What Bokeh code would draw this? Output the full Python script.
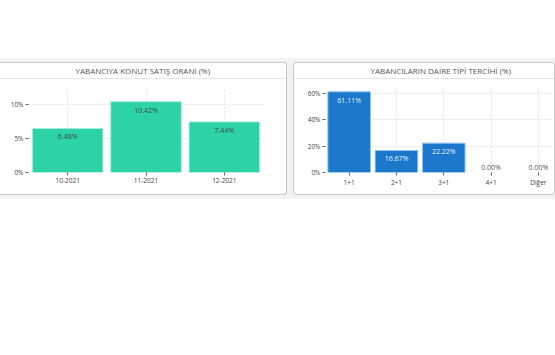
from bokeh.plotting import figure
from bokeh.layouts import column, row
from bokeh.models import (ColumnDataSource, FactorRange, Range1d, FixedTicker,
                          PrintfTickFormatter, Title, Spacer)
from bokeh.embed import file_html
from bokeh.resources import INLINE
from bokeh.core.properties import value

# ---------------- data ----------------
months = ["10-2021", "11-2021", "12-2021"]
sales_share = [6.48, 10.42, 7.44]
left_ticks = [0, 5, 10]

room_types = ["1+1", "2+1", "3+1", "4+1", "Diğer"]
room_share = [61.11, 16.67, 22.22, 0.00, 0.00]
right_ticks = [0, 20, 40, 60]

title_left = "YABANCIYA KONUT SATIŞ ORANI (%)"
title_right = "YABANCILARIN DAİRE TİPİ TERCİHİ (%)"

FONT = "Open Sans"
BAND = "#f2f2f2"
GRID = "#e2e2e2"
EDGE = "#c8c8c8"
CARD_BG = ("linear-gradient(to bottom, #ffffff 0px, #ffffff 16px, #e6e6e6 16px, "
           "#e6e6e6 17px, #ffffff 17px, #ffffff 100%)")


def style(p, title, ticks, offset):
    p.toolbar_location = None
    p.border_fill_color = None
    p.background_fill_color = "white"
    p.outline_line_color = None
    # real title on the outside, an empty spacer title next to the frame
    p.title.text = title
    p.title.align = "left"
    p.title.offset = offset
    p.title.standoff = 0
    p.title.text_font = FONT
    p.title.text_font_size = "8px"
    p.title.text_font_style = "normal"
    p.title.text_color = "#555555"
    p.add_layout(Title(text=" ", text_font_size="1px", standoff=10,
                       text_font_style="normal"), "above")
    for ax in (p.xaxis, p.yaxis):
        ax.axis_line_color = None
        ax.major_tick_out = 3
        ax.major_tick_in = 0
        ax.minor_tick_out = 0
        ax.minor_tick_in = 0
        ax.major_tick_line_color = "#666666"
        ax.major_label_text_font = FONT
        ax.major_label_text_font_size = "6.5px"
        ax.major_label_text_color = "#444444"
        ax.major_label_standoff = 2
    p.yaxis.ticker = FixedTicker(ticks=ticks)
    p.yaxis.formatter = PrintfTickFormatter(format="%d%%")
    for g in (p.xgrid, p.ygrid):
        g.grid_line_color = GRID
        g.grid_line_dash = "2 2"
        g.grid_line_width = 1


# ---------------- left chart ----------------
p1 = figure(width=287, height=133, x_range=FactorRange(factors=months),
            y_range=Range1d(0, 12.35), output_backend="svg",
            toolbar_location=None, tools="", margin=(4, 0, 4, 0),
            min_border_left=28, min_border_right=24,
            min_border_top=26, min_border_bottom=23)
style(p1, title_left, left_ticks, 47)
p1.styles = {"background": CARD_BG,
             "border-radius": "0 4px 4px 0",
             "box-shadow": (f"inset 0 1px 0 {EDGE}, inset -1px 0 0 {EDGE}, "
                            f"inset 0 -1px 0 {EDGE}")}

src1 = ColumnDataSource(dict(x=months, top=sales_share,
                             label=[f"{v:.2f}%" for v in sales_share]))
p1.vbar(x="x", top="top", width=0.9, source=src1,
        fill_color="#2dd3a6", line_color="#a6ecd8", line_width=1)
p1.text(x="x", y="top", text="label", source=src1,
        text_align="center", text_baseline="top", y_offset=4,
        text_font=value(FONT), text_font_size="7px", text_color="#3a4d47")

# ---------------- right chart ----------------
idx = list(range(len(room_types)))
p2 = figure(width=262, height=133, x_range=Range1d(-0.5, 4.32),
            y_range=Range1d(0, 63.6), output_backend="svg",
            toolbar_location=None, tools="", margin=(4, 0, 4, 6),
            min_border_left=32, min_border_right=2,
            min_border_top=26, min_border_bottom=23)
style(p2, title_right, right_ticks, 45)
p2.styles = {"background": CARD_BG,
             "border-radius": "4px",
             "box-shadow": f"inset 0 0 0 1px {EDGE}"}
p2.xaxis.ticker = FixedTicker(ticks=idx)
p2.xaxis.major_label_overrides = {i: t for i, t in enumerate(room_types)}

inside = [v > 5 for v in room_share]
src2 = ColumnDataSource(dict(x=idx, top=room_share,
                             line_alpha=[1.0 if v > 0 else 0.0 for v in room_share]))
p2.vbar(x="x", top="top", width=0.9, source=src2,
        fill_color="#1b78cc", line_color="#8fc3ee", line_width=1,
        line_alpha="line_alpha")
src_in = ColumnDataSource(dict(
    x=[i for i, f in zip(idx, inside) if f],
    y=[v for v, f in zip(room_share, inside) if f],
    label=[f"{v:.2f}%" for v, f in zip(room_share, inside) if f]))
src_out = ColumnDataSource(dict(
    x=[i for i, f in zip(idx, inside) if not f],
    y=[v for v, f in zip(room_share, inside) if not f],
    label=[f"{v:.2f}%" for v, f in zip(room_share, inside) if not f]))
p2.text(x="x", y="y", text="label", source=src_in,
        text_align="center", text_baseline="top", y_offset=4,
        text_font=value(FONT), text_font_size="7px", text_color="#e8f1fa")
p2.text(x="x", y="y", text="label", source=src_out,
        text_align="center", text_baseline="bottom", y_offset=-1,
        text_font=value(FONT), text_font_size="7px", text_color="#555555")

band = row(p1, p2, spacing=0, styles={"background-color": BAND})
layout = column(Spacer(width=555, height=58), band, spacing=0)

open("out.html", "w").write(file_html(layout, INLINE))
